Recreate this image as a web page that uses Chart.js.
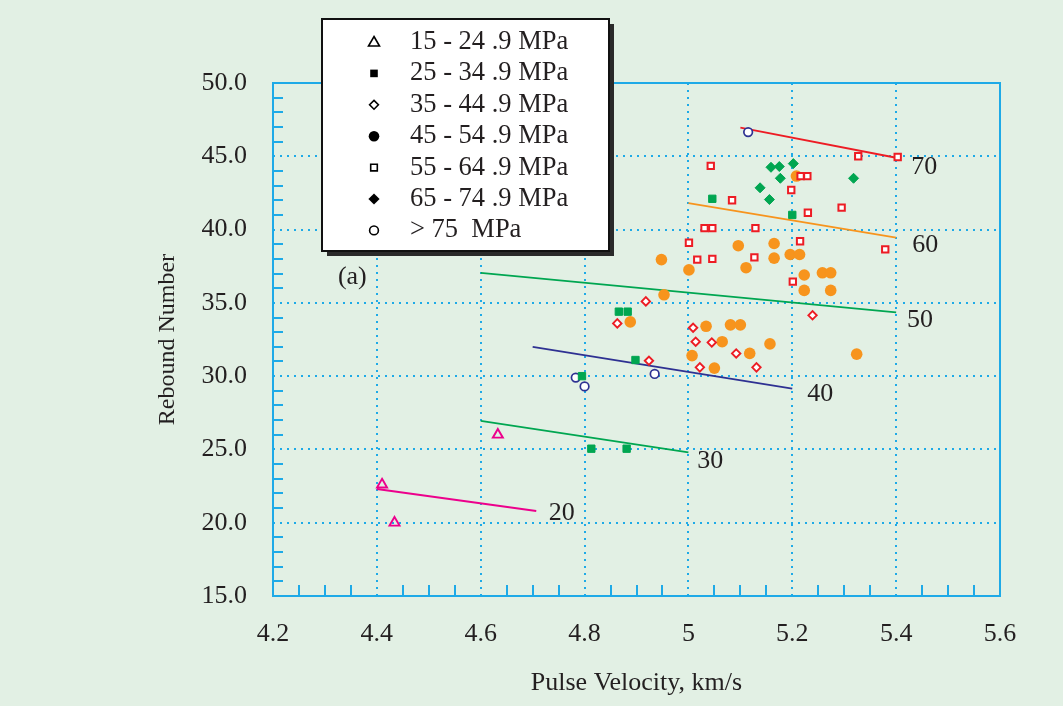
<!DOCTYPE html>
<html>
<head>
<meta charset="utf-8">
<script src="https://cdn.jsdelivr.net/npm/chart.js@4.4.0/dist/chart.umd.min.js"></script>
<style>
html,body{margin:0;padding:0;background:#e2f0e4;}
#wrap{width:1063px;height:706px;position:relative;}
canvas{display:block;}
</style>
</head>
<body>
<div id="wrap"><canvas id="c" width="1063" height="706"></canvas></div>
<script>
// ---------------- DATA ----------------
const categories = ['15 - 24 .9 MPa', '25 - 34 .9 MPa', '35 - 44 .9 MPa', '45 - 54 .9 MPa', '55 - 64 .9 MPa', '65 - 74 .9 MPa', '> 75  MPa'];

// 15 - 24.9 MPa (open triangles)
const s15X = [4.41, 4.434, 4.633];
const s15Y = [22.6, 20.0, 26.0];
// 25 - 34.9 MPa (filled squares)
const s25X = [4.795, 4.813, 4.866, 4.883, 4.881, 4.898, 5.046, 5.200];
const s25Y = [30.0, 25.05, 34.4, 34.4, 25.05, 31.1, 42.1, 41.0];
// 35 - 44.9 MPa (open diamonds)
const s35X = [4.863, 4.918, 4.924, 5.009, 5.014, 5.022, 5.045, 5.092, 5.131, 5.239];
const s35Y = [33.6, 35.1, 31.05, 33.3, 32.35, 30.6, 32.3, 31.55, 30.6, 34.15];
// 45 - 54.9 MPa (filled circles)
const s45X = [4.888, 4.948, 4.953, 5.001, 5.007, 5.034, 5.05, 5.065, 5.081, 5.096, 5.1, 5.111, 5.118, 5.157, 5.165, 5.165, 5.196, 5.208, 5.214, 5.223, 5.223, 5.258, 5.274, 5.274, 5.324];
const s45Y = [33.7, 37.95, 35.55, 37.25, 31.4, 33.4, 30.55, 32.35, 33.5, 38.9, 33.5, 37.4, 31.55, 32.2, 39.05, 38.05, 38.3, 43.65, 38.3, 36.9, 35.85, 37.05, 37.05, 35.85, 31.5];
// 55 - 64.9 MPa (open squares)
const s55X = [5.001, 5.017, 5.031, 5.043, 5.046, 5.046, 5.084, 5.127, 5.129, 5.198, 5.201, 5.215, 5.216, 5.229, 5.23, 5.295, 5.327, 5.379, 5.403];
const s55Y = [39.1, 37.95, 40.1, 44.35, 40.1, 38.0, 42.0, 38.1, 40.1, 42.7, 36.45, 39.2, 43.65, 43.65, 41.15, 41.5, 45.0, 38.65, 44.95];
// 65 - 74.9 MPa (filled diamonds)
const s65X = [5.138, 5.156, 5.159, 5.175, 5.177, 5.202, 5.318];
const s65Y = [42.85, 42.05, 44.25, 44.3, 43.5, 44.5, 43.5];
// > 75 MPa (open circles)
const s75X = [4.783, 4.8, 4.935, 5.115];
const s75Y = [29.9, 29.3, 30.15, 46.65];

// iso-strength lines
const isoLabels = ['70', '60', '50', '40', '30', '20'];
const isoX = [[5.1, 5.4], [5.0, 5.4], [4.6, 5.4], [4.7, 5.2], [4.6, 5.0], [4.4, 4.707]];
const isoY = [[46.95, 44.9], [41.8, 39.45], [37.05, 34.35], [32.0, 29.15], [26.95, 24.8], [22.3, 20.8]];
const isoLabelX = [5.429, 5.431, 5.421, 5.229, 5.017, 4.731];
const isoLabelY = [44.23, 38.92, 33.81, 28.77, 24.2, 20.66];

const panelLabel = '(a)';
const panelLabelX = 4.325;
const panelLabelY = 36.74;

const xTicks = [4.2, 4.4, 4.6, 4.8, 5.0, 5.2, 5.4, 5.6];
const yTicks = [15, 20, 25, 30, 35, 40, 45, 50];

// ---------------- STYLE ----------------
const BG = '#e2f0e4';
const CYAN = '#1eaae7';
const TXT = '#231f20';
const FONT = "'Liberation Serif', 'Times New Roman', serif";
const isoColors = ['#ed1c24', '#f7941d', '#00a651', '#2e3192', '#00a651', '#ec008c'];

function pts(xs, ys) { return xs.map((v, i) => ({x: v, y: ys[i]})); }

const datasets = [
  {label: categories[0], data: pts(s15X, s15Y), pointStyle: 'triangle', pointRadius: 5.8, borderWidth: 1.9, borderColor: '#ec008c', backgroundColor: 'rgba(0,0,0,0)'},
  {label: categories[1], data: pts(s25X, s25Y), pointStyle: 'rect', pointRadius: 5.2, borderWidth: 1, borderColor: '#00a651', backgroundColor: '#00a651'},
  {label: categories[4], data: pts(s55X, s55Y), pointStyle: 'rect', pointRadius: 4.5, borderWidth: 2, borderColor: '#ed1c24', backgroundColor: '#ffffff'},
  {label: categories[2], data: pts(s35X, s35Y), pointStyle: 'rectRot', pointRadius: 4.2, borderWidth: 1.9, borderColor: '#ed1c24', backgroundColor: '#ffffff'},
  {label: categories[6], data: pts(s75X, s75Y), pointStyle: 'circle', pointRadius: 4.3, borderWidth: 1.7, borderColor: '#2e3192', backgroundColor: '#ffffff'},
  {label: categories[5], data: pts(s65X, s65Y), pointStyle: 'rectRot', pointRadius: 5, borderWidth: 1, borderColor: '#00a651', backgroundColor: '#00a651'},
  {label: categories[3], data: pts(s45X, s45Y), pointStyle: 'circle', pointRadius: 5.8, borderWidth: 0, borderColor: '#f7941d', backgroundColor: '#f7941d'}
];
isoLabels.forEach((lab, i) => {
  datasets.push({label: 'iso ' + lab, data: pts(isoX[i], isoY[i]), showLine: true, pointRadius: 0, borderWidth: 1.8, borderColor: isoColors[i], backgroundColor: isoColors[i], fill: false});
});

function near(a, b) { return Math.abs(a - b) < 1e-6; }

const framePlugin = {
  id: 'frame',
  beforeDraw(chart) {
    const ctx = chart.ctx;
    ctx.save();
    ctx.fillStyle = BG;
    ctx.fillRect(0, 0, chart.width, chart.height);
    ctx.restore();
  },
  beforeDatasetsDraw(chart) {
    const {ctx, chartArea: a, scales: {x, y}} = chart;
    ctx.save();
    ctx.strokeStyle = CYAN;
    ctx.lineWidth = 2;
    ctx.beginPath();
    for (let v = 16; v < 50; v++) {
      if (v % 5 === 0) continue;
      const py = Math.round(y.getPixelForValue(v));
      ctx.moveTo(a.left, py); ctx.lineTo(a.left + 10, py);
    }
    for (let k = 85; k < 112; k++) {
      if (k % 4 === 0) continue;
      const px = Math.round(x.getPixelForValue(k / 20));
      ctx.moveTo(px, a.bottom); ctx.lineTo(px, a.bottom - 11);
    }
    ctx.stroke();
    ctx.strokeRect(a.left, a.top, a.right - a.left, a.bottom - a.top);
    ctx.restore();
  },
  afterDraw(chart) {
    const {ctx, scales: {x, y}} = chart;
    ctx.save();
    ctx.fillStyle = TXT;
    ctx.font = '26px ' + FONT;
    ctx.textAlign = 'left';
    ctx.textBaseline = 'middle';
    isoLabels.forEach((lab, i) => {
      ctx.fillText(lab, x.getPixelForValue(isoLabelX[i]), y.getPixelForValue(isoLabelY[i]));
    });
    ctx.fillText(panelLabel, x.getPixelForValue(panelLabelX), y.getPixelForValue(panelLabelY));

    // legend box
    const L = {x: 322, y: 19, w: 287, h: 232};
    ctx.fillStyle = '#2a2a2a';
    ctx.fillRect(L.x + 5, L.y + 5, L.w, L.h);
    ctx.fillStyle = '#ffffff';
    ctx.fillRect(L.x, L.y, L.w, L.h);
    ctx.lineWidth = 2;
    ctx.strokeStyle = '#111';
    ctx.strokeRect(L.x, L.y, L.w, L.h);

    const styles = ['tri', 'sqF', 'diaO', 'cirF', 'sqO', 'diaF', 'cirO'];
    ctx.font = '26.5px ' + FONT;
    categories.forEach((cat, i) => {
      const cy = 42 + i * 31.4;
      const cx = 374;
      ctx.save();
      ctx.strokeStyle = '#000';
      ctx.fillStyle = '#000';
      ctx.lineWidth = 1.6;
      ctx.beginPath();
      const st = styles[i];
      if (st === 'tri') {
        ctx.moveTo(cx, cy - 5.5); ctx.lineTo(cx + 5.5, cy + 4); ctx.lineTo(cx - 5.5, cy + 4); ctx.closePath(); ctx.stroke();
      } else if (st === 'sqF') {
        ctx.rect(cx - 3.8, cy - 3.8, 7.6, 7.6); ctx.fill();
      } else if (st === 'sqO') {
        ctx.rect(cx - 3.3, cy - 3.3, 6.6, 6.6); ctx.stroke();
      } else if (st === 'diaO') {
        ctx.moveTo(cx, cy - 4.4); ctx.lineTo(cx + 4.4, cy); ctx.lineTo(cx, cy + 4.4); ctx.lineTo(cx - 4.4, cy); ctx.closePath(); ctx.stroke();
      } else if (st === 'diaF') {
        ctx.moveTo(cx, cy - 5.6); ctx.lineTo(cx + 5.6, cy); ctx.lineTo(cx, cy + 5.6); ctx.lineTo(cx - 5.6, cy); ctx.closePath(); ctx.fill();
      } else if (st === 'cirF') {
        ctx.arc(cx, cy, 5.3, 0, Math.PI * 2); ctx.fill();
      } else {
        ctx.arc(cx, cy, 4.4, 0, Math.PI * 2); ctx.stroke();
      }
      ctx.restore();
      ctx.fillStyle = TXT;
      ctx.fillText(cat, 410, cy);
    });
    ctx.restore();
  }
};

const gridColor = (ends) => (c) => {
  if (c.tick && ends.some(e => near(c.tick.value, e))) return 'rgba(0,0,0,0)';
  return CYAN;
};

new Chart(document.getElementById('c'), {
  type: 'scatter',
  data: {datasets},
  options: {
    responsive: false,
    animation: false,
    events: [],
    layout: {padding: {top: 83, right: 63, left: 0, bottom: 0}},
    plugins: {legend: {display: false}, tooltip: {enabled: false}, title: {display: false}},
    scales: {
      x: {
        type: 'linear', min: xTicks[0], max: xTicks[xTicks.length - 1],
        afterBuildTicks(s) { s.ticks = xTicks.map(v => ({value: v})); },
        afterFit(s) { s.height = 110; },
        ticks: {color: TXT, font: {family: FONT, size: 26}, padding: 23, maxRotation: 0, autoSkip: false,
          callback: (v) => String(Math.round(v * 10) / 10)},
        grid: {color: gridColor([xTicks[0], xTicks[xTicks.length - 1]]), lineWidth: 2, drawTicks: false},
        border: {display: false, dash: [2, 5]},
        title: {display: true, text: 'Pulse Velocity, km/s', color: TXT, font: {family: FONT, size: 26}, padding: {top: 0, bottom: 7}}
      },
      y: {
        type: 'linear', min: yTicks[0], max: yTicks[yTicks.length - 1],
        afterBuildTicks(s) { s.ticks = yTicks.map(v => ({value: v})); },
        afterFit(s) { s.width = 273; },
        ticks: {color: TXT, font: {family: FONT, size: 26}, padding: 26, autoSkip: false,
          callback: (v) => Number(v).toFixed(1)},
        grid: {color: gridColor([yTicks[0], yTicks[yTicks.length - 1]]), lineWidth: 2, drawTicks: false},
        border: {display: false, dash: [2, 5]},
        title: {display: true, text: 'Rebound Number', color: TXT, font: {family: FONT, size: 24}, padding: {top: 153, bottom: 0}}
      }
    }
  },
  plugins: [framePlugin]
});
</script>
</body>
</html>
